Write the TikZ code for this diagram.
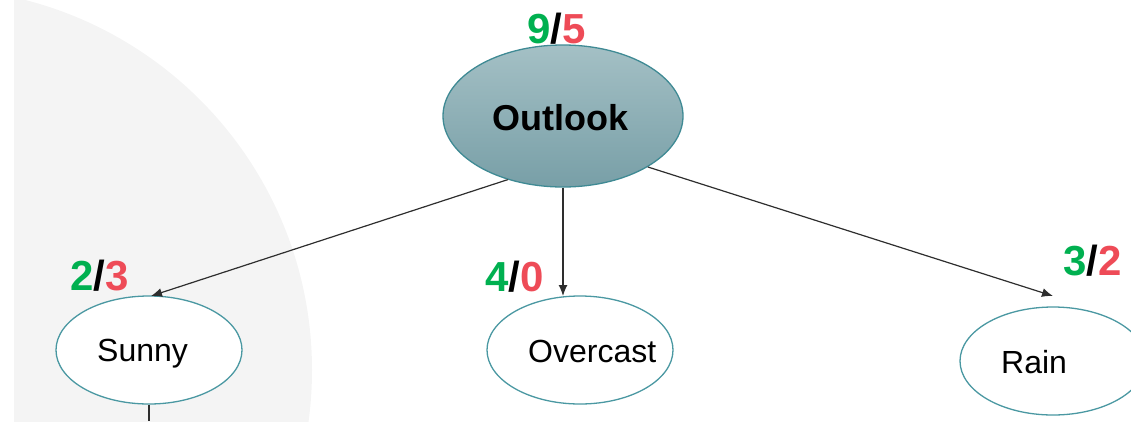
\documentclass[tikz,border=0pt]{standalone}
\usepackage{fontspec}
\setmainfont{Liberation Sans}
\usetikzlibrary{shapes.geometric,arrows.meta}

\definecolor{bggray}{HTML}{F4F4F4}
\definecolor{rimteal}{HTML}{4A98A2}
\definecolor{rootrim}{HTML}{3F8A94}
\definecolor{roottop}{HTML}{A4C0C5}
\definecolor{rootbot}{HTML}{789FA7}
\definecolor{posgreen}{HTML}{00B050}
\definecolor{negred}{HTML}{EE4B57}
\definecolor{edgegray}{HTML}{2E2E2E}

\tikzset{
  valnode/.style={ellipse, draw=rimteal, line width=1.3pt, fill=white,
    minimum width=186pt, minimum height=108pt, inner sep=0pt},
  rootnode/.style={ellipse, draw=rootrim, line width=1.3pt,
    top color=roottop, bottom color=rootbot,
    minimum width=240pt, minimum height=142pt, inner sep=0pt},
  word/.style={anchor=base west, inner sep=0pt, font=\fontsize{32}{32}\selectfont},
  rootword/.style={anchor=base west, inner sep=0pt, font=\fontsize{36}{36}\selectfont\bfseries},
  count/.style={anchor=base west, inner sep=0pt, font=\fontsize{42}{42}\selectfont\bfseries},
  branch/.style={draw=edgegray, line width=1.2pt, -{Latex[length=11pt,width=9pt]}},
  stem/.style={draw=edgegray, line width=1.2pt}
}

\begin{document}
\begin{tikzpicture}[x=1pt,y=-1pt]
  \useasboundingbox (0,0) rectangle (1131,421);
  \clip (0,0) rectangle (1131,421);

  % pale backdrop disc on the left
  \begin{scope}
    \clip (14,0) rectangle (1131,421);
    \fill[bggray] (-70,370) circle[radius=382];
  \end{scope}

  % tree nodes
  \node[rootnode] (outlook) at (563,116) {};
  \node[valnode] (sunny) at (149,350) {};
  \node[valnode] (overcast) at (580,350) {};
  \node[valnode] (rain) at (1053,361) {};

  % node texts
  \node[rootword] (toutlook) at (492,130) {Outlook};
  \node[word] (tsunny) at (97,361) {Sunny};
  \node[word] (tovercast) at (528,362) {Overcast};
  \node[word] (train) at (1001,373) {Rain};

  % class counts
  \node[count] (c1) at (527,43) {\textcolor{posgreen}{9}/\textcolor{negred}{5}};
  \node[count] (c2) at (70,290) {\textcolor{posgreen}{2}/\textcolor{negred}{3}};
  \node[count] (c3) at (485,291) {\textcolor{posgreen}{4}/\textcolor{negred}{0}};
  \node[count] (c4) at (1063,275) {\textcolor{posgreen}{3}/\textcolor{negred}{2}};

  % arrow targets
  \coordinate (toSunny) at (151,296);
  \coordinate (toOvercast) at (563,296);
  \coordinate (toRain) at (1053,296);
  \coordinate (below) at (149,421);

  % branches
  \draw[branch] (outlook.229) -- (toSunny);
  \draw[branch] (outlook.south) -- (toOvercast);
  \draw[branch] (outlook.329) -- (toRain);
  \draw[stem] (sunny.south) -- (below);
\end{tikzpicture}
\end{document}
